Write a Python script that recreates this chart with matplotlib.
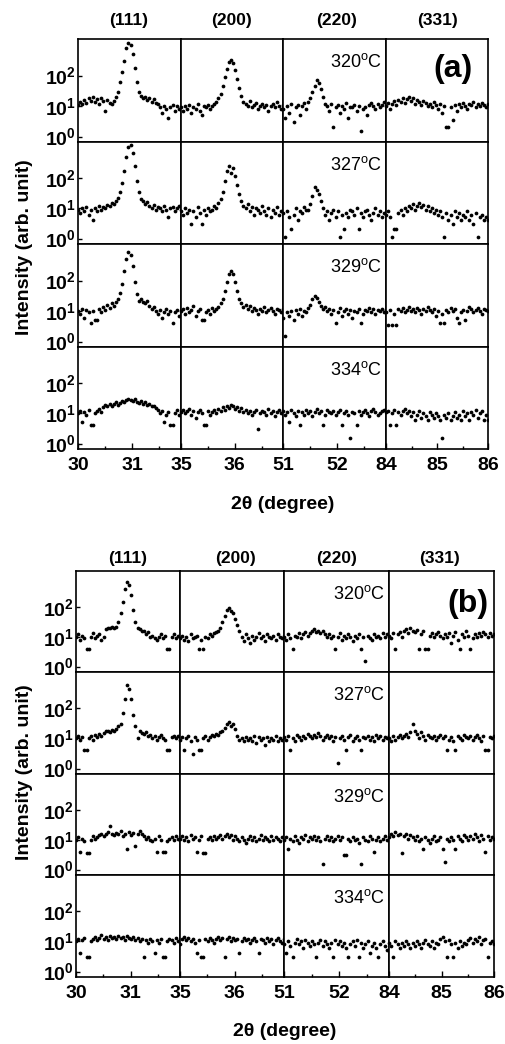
"""XRD segments (111)/(200)/(220)/(331) at four anneal temperatures, panels (a) and (b)."""

import matplotlib

matplotlib.use("Agg")
import matplotlib.pyplot as plt
import numpy as np
from matplotlib.ticker import MultipleLocator, NullLocator

plt.rcParams["font.family"] = ["Liberation Sans", "DejaVu Sans"]
plt.rcParams["mathtext.fontset"] = "custom"
plt.rcParams["mathtext.rm"] = "Liberation Sans"
plt.rcParams["mathtext.bf"] = "Liberation Sans:bold"

# ---- data: intensity (arb. unit) sampled evenly over each 2theta window ----
reflections = ["(111)", "(200)", "(220)", "(331)"]
temperatures = ["320", "327", "329", "334"]
x_ranges = [(30, 31.9), (35, 36.9), (51, 52.9), (84, 86)]
x_majors = [[30, 31], [35, 36], [51, 52], [84, 85, 86]]

# panel (a)
a320_111 = [11, 14, 12, 16, 13, 18, 15, 20, 14, 17, 12, 19, 15, 7, 16, 13, 12, 15, 20, 30,
            60, 130, 300, 800, 1200, 1000, 500, 180, 60, 30, 22, 18, 20, 16, 19, 14, 17, 13, 12, 9,
            6, 10, 8, 4, 9, 11, 7, 10, 8, 9]
a320_200 = [9, 7, 10, 8, 11, 6, 9, 8, 12, 7, 5, 10, 9, 11, 8, 10, 12, 14, 18, 25,
            45, 90, 170, 280, 320, 250, 150, 80, 40, 22, 14, 12, 10, 15, 9, 11, 13, 8, 10, 12,
            9, 11, 7, 10, 12, 9, 14, 10, 8, 11]
a320_220 = [8, 4, 10, 6, 12, 3, 9, 11, 5, 10, 13, 8, 14, 18, 30, 45, 70, 55, 35, 20,
            12, 10, 7, 12, 2, 9, 11, 6, 10, 8, 13, 4, 9, 9, 11, 7, 10, 1.5, 8, 9,
            5, 11, 13, 10, 8, 12, 9, 11, 14, 10]
a320_331 = [10, 13, 8, 12, 15, 11, 16, 14, 18, 13, 17, 20, 15, 18, 12, 16, 14, 11, 15, 13,
            10, 12, 9, 14, 11, 8, 12, 6, 10, 2, 2, 9, 3.5, 11, 7, 12, 9, 13, 10, 8,
            12, 11, 14, 9, 12, 10, 13, 11, 9, 12]

a327_111 = [9, 7, 10, 8, 11, 6, 9, 4, 10, 8, 12, 9, 11, 10, 13, 12, 15, 14, 18, 22,
            35, 70, 180, 500, 1100, 1300, 700, 250, 80, 35, 20, 17, 14, 16, 12, 10, 13, 9, 11, 10,
            8, 12, 9, 5, 10, 11, 8, 10, 12, 9]
a327_200 = [8, 6, 10, 7, 9, 3, 8, 5, 11, 7, 3, 9, 6, 10, 8, 9, 12, 10, 15, 20,
            35, 80, 180, 260, 150, 220, 120, 60, 30, 18, 12, 10, 14, 8, 11, 6, 10, 9, 7, 12,
            8, 6, 10, 5, 9, 7, 11, 6, 8, 7]
a327_220 = [7, 1.1, 8, 5, 2, 6, 10, 4, 8, 7, 11, 9, 9, 14, 25, 50, 40, 30, 18, 10,
            6, 8, 4, 7, 9, 5, 8, 1.1, 6, 2, 7, 5, 9, 8, 6, 10, 2, 7, 5, 8,
            9, 6, 4, 7, 10, 6, 8, 5, 7, 6]
a327_331 = [6, 8, 5, 1.1, 2, 2, 7, 9, 6, 10, 8, 12, 10, 14, 9, 12, 15, 11, 13, 9,
            12, 8, 10, 7, 9, 6, 8, 5, 1.1, 7, 4, 6, 3, 8, 5, 7, 4, 6, 5, 8,
            4, 6, 3, 7, 1.1, 5, 6, 4, 5, 4]

a329_111 = [10, 8, 12, 6, 11, 9, 4, 10, 5, 5, 12, 9, 14, 11, 16, 13, 18, 15, 20, 25,
            40, 80, 200, 500, 850, 700, 300, 90, 35, 22, 25, 20, 18, 22, 15, 12, 14, 10, 8, 11,
            6, 9, 12, 8, 10, 4, 9, 11, 7, 10]
a329_200 = [10, 12, 8, 13, 9, 11, 15, 7, 10, 12, 5, 5, 9, 11, 8, 13, 10, 12, 14, 18,
            25, 45, 90, 170, 200, 160, 90, 45, 25, 18, 14, 16, 12, 15, 10, 13, 11, 8, 12, 10,
            14, 9, 11, 13, 10, 8, 12, 11, 9, 12]
a329_220 = [6, 1.5, 9, 7, 10, 5, 11, 8, 12, 7, 10, 9, 13, 16, 24, 32, 26, 20, 15, 12,
            14, 10, 12, 8, 11, 4, 9, 13, 7, 10, 12, 8, 11, 6, 10, 9, 12, 4, 8, 11,
            10, 13, 9, 12, 8, 11, 10, 12, 9, 11]
a329_331 = [9, 3.5, 11, 3.5, 8, 3.5, 12, 10, 13, 9, 11, 14, 10, 12, 9, 13, 11, 8, 12, 10,
            14, 11, 9, 12, 7, 10, 4, 8, 4, 11, 9, 13, 10, 12, 6, 4, 9, 11, 5, 10,
            14, 12, 9, 11, 13, 10, 8, 12, 11, 10]

a334_111 = [10, 12, 5, 11, 9, 13, 4, 4, 10, 12, 14, 11, 16, 19, 17, 21, 18, 20, 23, 19,
            22, 26, 24, 28, 30, 27, 25, 29, 24, 22, 26, 20, 23, 19, 21, 17, 18, 15, 13, 10,
            12, 5, 9, 11, 4, 4, 10, 13, 9, 11]
a334_200 = [11, 13, 10, 12, 14, 9, 12, 7, 11, 13, 10, 4, 4, 12, 9, 11, 13, 10, 14, 12,
            16, 13, 18, 15, 19, 17, 14, 16, 12, 15, 11, 13, 10, 12, 9, 11, 13, 3, 10, 12,
            11, 9, 14, 10, 12, 8, 11, 13, 10, 12]
a334_220 = [12, 9, 11, 5, 13, 10, 8, 12, 4, 11, 9, 13, 10, 12, 8, 11, 14, 10, 12, 4,
            9, 13, 11, 10, 12, 9, 11, 13, 4, 10, 12, 9, 1.5, 11, 10, 4, 12, 9, 11, 13,
            10, 8, 12, 14, 11, 9, 10, 12, 13, 11]
a334_331 = [11, 12, 4, 10, 13, 4, 11, 9, 12, 14, 10, 12, 8, 11, 6, 9, 12, 7, 10, 8,
            6, 11, 9, 7, 10, 8, 6, 1.5, 9, 7, 10, 6, 8, 11, 7, 9, 6, 12, 8, 10,
            6, 11, 9, 13, 7, 10, 12, 6, 9, 6]

# panel (b)
b320_111 = [10, 12, 8, 11, 9, 4, 4, 10, 13, 9, 11, 12, 8, 10, 18, 20, 19, 21, 20, 22,
            30, 60, 150, 400, 700, 550, 250, 80, 30, 20, 18, 15, 16, 12, 14, 10, 11, 9, 8, 10,
            12, 9, 11, 4, 4, 10, 12, 9, 11, 10]
b320_200 = [9, 11, 8, 10, 7, 12, 9, 10, 11, 4, 8, 4, 10, 9, 12, 11, 13, 14, 16, 20,
            30, 50, 80, 95, 70, 60, 40, 25, 15, 10, 7, 12, 9, 6, 11, 8, 10, 13, 9, 11,
            7, 12, 10, 9, 11, 8, 12, 10, 9, 11]
b320_220 = [10, 8, 12, 9, 4, 11, 10, 13, 9, 12, 14, 11, 13, 15, 18, 14, 16, 13, 15, 12,
            10, 12, 9, 11, 4, 10, 13, 8, 11, 9, 12, 10, 7, 11, 9, 12, 4, 10, 1.5, 11,
            9, 8, 12, 10, 11, 9, 13, 10, 12, 11]
b320_331 = [11, 9, 13, 4, 12, 14, 10, 15, 18, 13, 20, 16, 14, 17, 4, 12, 15, 4, 4, 11,
            13, 10, 12, 14, 11, 9, 12, 10, 13, 6, 11, 14, 8, 4, 12, 10, 15, 11, 4, 9,
            12, 10, 13, 11, 14, 12, 10, 13, 11, 12]

b327_111 = [10, 12, 9, 11, 4, 4, 10, 12, 9, 13, 11, 14, 12, 15, 17, 18, 16, 19, 17, 20,
            25, 30, 70, 200, 600, 450, 200, 60, 25, 10, 18, 15, 14, 16, 12, 13, 10, 12, 9, 11,
            13, 10, 9, 4, 4, 11, 12, 10, 12, 9]
b327_200 = [9, 11, 4, 10, 12, 8, 3, 11, 9, 4, 4, 10, 12, 9, 11, 13, 12, 14, 13, 16,
            18, 22, 30, 35, 25, 30, 20, 12, 9, 10, 8, 11, 9, 10, 8, 12, 7, 11, 9, 10,
            6, 11, 8, 10, 9, 12, 8, 10, 9, 11]
b327_220 = [11, 9, 12, 4, 10, 8, 13, 11, 9, 12, 10, 14, 12, 10, 13, 11, 15, 12, 9, 11,
            13, 10, 12, 8, 11, 1.5, 10, 12, 9, 4, 11, 13, 8, 10, 12, 9, 4, 11, 10, 12,
            9, 11, 8, 13, 10, 12, 9, 11, 10, 12]
b327_331 = [10, 8, 12, 9, 11, 13, 10, 12, 14, 11, 16, 30, 18, 14, 10, 16, 12, 9, 13, 11,
            10, 12, 9, 11, 13, 10, 12, 4, 9, 11, 8, 4, 12, 10, 9, 13, 11, 10, 12, 9,
            11, 13, 10, 8, 12, 4, 4, 11, 10, 12]

b329_111 = [10, 12, 4, 11, 9, 3.5, 3.5, 10, 13, 11, 12, 14, 16, 13, 15, 18, 28, 16, 14, 17,
            15, 19, 13, 16, 5, 18, 14, 17, 6, 15, 19, 16, 13, 11, 12, 10, 9, 11, 4, 13,
            10, 4, 4, 9, 11, 12, 10, 13, 11, 10]
b329_200 = [11, 13, 10, 12, 9, 14, 11, 12, 4, 10, 13, 3.5, 3.5, 11, 12, 10, 13, 11, 12, 14,
            11, 13, 15, 12, 14, 10, 13, 11, 9, 12, 10, 8, 11, 13, 10, 12, 9, 11, 14, 10,
            12, 11, 9, 13, 10, 12, 11, 9, 12, 10]
b329_220 = [10, 12, 5, 11, 9, 13, 10, 8, 12, 11, 14, 9, 12, 11, 13, 10, 12, 9, 1.5, 11,
            13, 10, 12, 9, 11, 13, 10, 12, 3, 3, 11, 9, 12, 10, 11, 8, 1.5, 12, 10, 9,
            13, 11, 4, 10, 12, 9, 11, 13, 10, 12]
b329_331 = [12, 15, 13, 18, 14, 16, 3.5, 13, 15, 11, 14, 12, 10, 13, 9, 11, 5, 12, 10, 8,
            11, 13, 9, 10, 12, 5, 1.8, 11, 9, 12, 10, 5, 13, 11, 9, 14, 12, 10, 13, 11,
            15, 12, 9, 14, 11, 4, 13, 10, 12, 11]

b334_111 = [10, 12, 4, 11, 13, 3, 3, 10, 12, 14, 11, 13, 16, 12, 14, 11, 15, 13, 14, 12,
            15, 13, 14, 11, 15, 13, 12, 14, 11, 13, 10, 12, 3, 11, 9, 12, 10, 4, 11, 9,
            12, 3, 3, 10, 12, 11, 9, 13, 10, 11]
b334_200 = [8, 12, 14, 11, 13, 10, 12, 9, 4, 11, 3, 3, 12, 10, 13, 11, 9, 12, 14, 11,
            13, 3, 12, 14, 10, 13, 11, 12, 4, 10, 13, 11, 12, 9, 11, 13, 10, 4, 12, 11,
            9, 13, 10, 12, 8, 11, 13, 10, 9, 12]
b334_220 = [8, 4, 10, 7, 3, 9, 12, 8, 10, 6, 11, 9, 7, 10, 8, 3, 9, 11, 7, 10,
            8, 6, 9, 3, 11, 8, 10, 7, 9, 6, 3, 8, 10, 7, 11, 3, 9, 6, 8, 10,
            4, 7, 9, 6, 3, 8, 10, 7, 5, 9]
b334_331 = [9, 7, 3, 10, 8, 6, 9, 7, 10, 8, 6, 9, 7, 10, 8, 6, 9, 11, 8, 7,
            10, 6, 9, 8, 12, 14, 10, 3, 11, 8, 3, 9, 6, 10, 7, 9, 8, 11, 13, 9,
            12, 10, 14, 8, 11, 12, 3, 9, 10, 8]

panel_a = [
    [a320_111, a320_200, a320_220, a320_331],
    [a327_111, a327_200, a327_220, a327_331],
    [a329_111, a329_200, a329_220, a329_331],
    [a334_111, a334_200, a334_220, a334_331],
]
panel_b = [
    [b320_111, b320_200, b320_220, b320_331],
    [b327_111, b327_200, b327_220, b327_331],
    [b329_111, b329_200, b329_220, b329_331],
    [b334_111, b334_200, b334_220, b334_331],
]

# ---- layout (pixel positions on a 505 x 1044 canvas) ----
W, H = 505, 1044
YLIM = (10 ** -0.18, 10 ** 3.2)
FS = 14


def fig_xy(x, y):
    return x / W, 1 - y / H


def draw_panel(fig, rows, col_edges, row_edges, letter, letter_xy, header_x, header_y,
               ylabel_y, xlabel_xy):
    for r, row in enumerate(rows):
        for c, values in enumerate(row):
            x0, x1 = col_edges[c], col_edges[c + 1]
            y0, y1 = row_edges[r], row_edges[r + 1]
            ax = fig.add_axes([x0 / W, 1 - y1 / H, (x1 - x0) / W, (y1 - y0) / H])
            lo, hi = x_ranges[c]
            xs = np.linspace(lo, hi, len(values))
            ax.plot(xs, values, "o", color="black", ms=2.7, mew=0)
            ax.set_yscale("log")
            ax.set_xlim(lo, hi)
            ax.set_ylim(*YLIM)
            ax.yaxis.set_minor_locator(NullLocator())
            for sp in ax.spines.values():
                sp.set_linewidth(1.2)
            if c == 0:
                ax.set_yticks([1, 10, 100])
                ax.set_yticklabels([r"$\mathbf{10^{0}}$", r"$\mathbf{10^{1}}$",
                                    r"$\mathbf{10^{2}}$"])
                ax.tick_params(axis="y", direction="in", length=3, width=1,
                               labelsize=FS, pad=1.5)
            else:
                ax.set_yticks([])
            if r == len(rows) - 1:
                ax.set_xticks(x_majors[c])
                ax.set_xticklabels([str(v) for v in x_majors[c]], fontweight="bold")
                ax.xaxis.set_minor_locator(MultipleLocator(0.5))
                ax.tick_params(axis="x", which="major", direction="in", length=4,
                               width=1, labelsize=FS, pad=6)
                ax.tick_params(axis="x", which="minor", direction="in", length=2.5,
                               width=1)
            else:
                ax.set_xticks([])
                ax.xaxis.set_minor_locator(NullLocator())
            if c == 2:
                ax.text(1 - 4 / (x1 - x0), 1 - 23 / (y1 - y0),
                        temperatures[r] + r"$^{\mathregular{o}}$C",
                        transform=ax.transAxes, ha="right", va="center", fontsize=13)
    for name, hx in zip(reflections, header_x):
        fig.text(*fig_xy(hx, header_y), name, ha="center", va="center",
                 fontsize=12.5, fontweight="bold")
    fig.text(*fig_xy(*letter_xy), letter, ha="center", va="center",
             fontsize=23, fontweight="bold")
    fig.text(*fig_xy(25, ylabel_y), "Intensity (arb. unit)", rotation=90,
             ha="center", va="center", fontsize=FS, fontweight="bold")
    fig.text(*fig_xy(*xlabel_xy), "2θ (degree)", ha="center", va="center",
             fontsize=FS, fontweight="bold")


fig = plt.figure(figsize=(W / 100, H / 100), dpi=100)
draw_panel(fig, panel_a, [78, 181, 283, 386, 488], [39, 142, 244, 347, 449],
           "(a)", (453, 69), [129, 232, 337, 437], 20, 247, (283, 504))
draw_panel(fig, panel_b, [76, 180, 284, 389, 494], [571, 672, 774, 875, 977],
           "(b)", (468, 604), [128, 235, 337, 440], 558, 772, (285, 1032))
fig.savefig("out.png", dpi=100)
